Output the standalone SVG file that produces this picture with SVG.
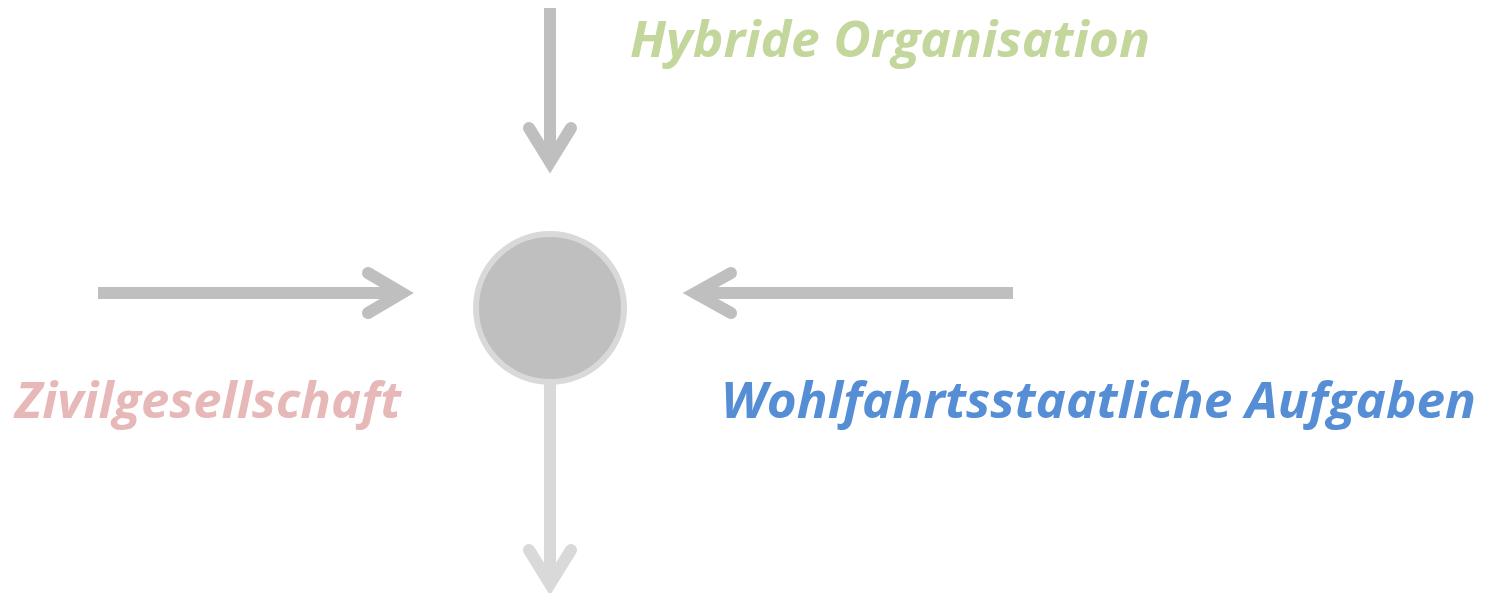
<svg xmlns="http://www.w3.org/2000/svg" width="1494" height="593" viewBox="0 0 1494 593">
<style>
.lbl{font-family:"Open Sans","Liberation Sans",sans-serif;font-weight:bold;font-style:italic;font-size:50px}
.arr{fill:none;stroke:#bfbfbf;stroke-width:12;stroke-linejoin:miter;stroke-miterlimit:10}
.head{stroke-linecap:round}
.light{stroke:#d9d9d9}
</style>
<rect width="1494" height="593" fill="#ffffff"/>
<g id="connectors">
<path class="arr" d="M550,8 V162"/>
<path class="arr head" d="M529,128 L550,162 L571,128"/>
<path class="arr" d="M98,293 H402"/>
<path class="arr head" d="M368,273 L402,293 L368,313"/>
<path class="arr" d="M1013,293 H695"/>
<path class="arr head" d="M731,273 L695,293 L731,313"/>
<path class="arr light" d="M550,384 V584"/>
<path class="arr light head" d="M529,550 L550,584 L571,550"/>
</g>
<g id="node-center">
<circle cx="550" cy="308" r="74" fill="#bfbfbf" stroke="#d9d9d9" stroke-width="6"/>
</g>
<g id="label-hybrid">
<text class="lbl" x="630" y="57" fill="#c3d69b" textLength="520" lengthAdjust="spacingAndGlyphs">Hybride Organisation</text>
</g>
<g id="label-zivil">
<text class="lbl" x="15" y="418" fill="#e6b9b8" textLength="386" lengthAdjust="spacingAndGlyphs">Zivilgesellschaft</text>
</g>
<g id="label-wohl">
<text class="lbl" x="721" y="418" fill="#558ed5" textLength="755" lengthAdjust="spacingAndGlyphs">Wohlfahrtsstaatliche Aufgaben</text>
</g>
</svg>
